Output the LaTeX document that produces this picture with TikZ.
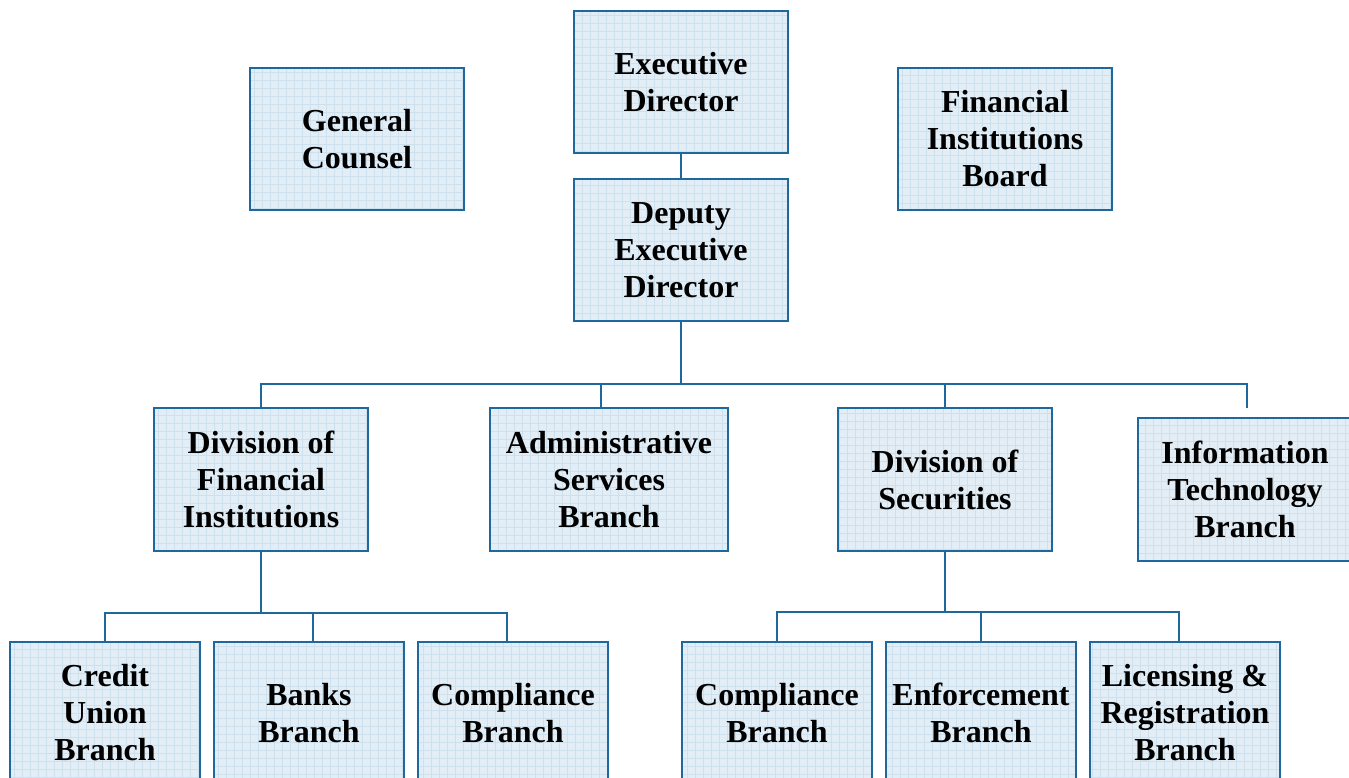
\documentclass[tikz,border=0pt]{standalone}
\usepackage{fontspec}
\setmainfont{Liberation Serif}
\usepackage{xcolor}
\definecolor{boxline}{RGB}{31,104,158}
\definecolor{boxfill}{RGB}{226,237,245}
\definecolor{boxgrid}{RGB}{204,224,238}
\usetikzlibrary{calc}
\tikzset{
  orgbox/.style={rectangle,draw=boxline,line width=2.2pt,fill=boxfill,align=center,
    font=\fontsize{32}{37}\selectfont\bfseries,minimum width=214pt,minimum height=142pt,
    inner sep=0pt,
    path picture={\draw[boxgrid,line width=0.6pt,step=8pt] (path picture bounding box.south west) grid (path picture bounding box.north east);}},
  lowbox/.style={orgbox,minimum width=190pt,minimum height=142pt},
  link/.style={draw=boxline,line width=2pt}
}

\begin{document}
\begin{tikzpicture}[x=1pt,y=-1pt]
 \useasboundingbox (0,0) rectangle (1349,777);
 \node[orgbox] (gc) at (357,139) {General\\Counsel};
 \node[orgbox] (ed) at (681,82) {Executive\\Director};
 \node[orgbox] (fib) at (1005,139) {Financial\\Institutions\\Board};
 \node[orgbox] (ded) at (681,250) {Deputy\\Executive\\Director};
 \node[orgbox,minimum height=143pt] (dfi) at (261,479.5) {Division of\\Financial\\Institutions};
 \node[orgbox,minimum width=238pt,minimum height=143pt] (asb) at (609,479.5) {Administrative\\Services\\Branch};
 \node[orgbox,minimum height=143pt] (dos) at (945,479.5) {Division of\\Securities};
 \node[orgbox,minimum height=143pt] (itb) at (1245,489.5) {Information\\Technology\\Branch};
 \node[lowbox] (cub) at (105,713) {Credit\\Union\\Branch};
 \node[lowbox] (bb) at (309,713) {Banks\\Branch};
 \node[lowbox] (cbf) at (513,713) {Compliance\\Branch};
 \node[lowbox] (cbs) at (777,713) {Compliance\\Branch};
 \node[lowbox] (eb) at (981,713) {Enforcement\\Branch};
 \node[lowbox] (lrb) at (1185,713) {Licensing \&\\Registration\\Branch};
 % bus lines
 \coordinate (top bus) at (681,383.5);
 \coordinate (asb drop) at (601,383.5);
 \coordinate (itb drop) at (1247,383.5);
 \coordinate (itb end) at (1247,408);
 \coordinate (dfi bus) at (261,613);
 \coordinate (bb drop) at (313,613);
 \coordinate (cbf drop) at (507,613);
 \coordinate (dos bus) at (945,612);
 \coordinate (lrb drop) at (1179,612);
 \draw[link] (ed) -- (ded);
 \draw[link] (ded) -- (top bus);
 \draw[link] (dfi.north) |- (top bus) -| (itb drop) -- (itb end);
 \draw[link] (asb drop) -- (asb drop |- asb.north);
 \draw[link] (dos.north) -- (dos.north |- top bus);
 \draw[link] (dfi) -- (dfi bus);
 \draw[link] (cub.north) |- (dfi bus) -| (cbf drop) -- (cbf drop |- cbf.north);
 \draw[link] (bb drop) -- (bb drop |- bb.north);
 \draw[link] (dos) -- (dos bus);
 \draw[link] (cbs.north) |- (dos bus) -| (lrb drop) -- (lrb drop |- lrb.north);
 \draw[link] (eb.north) -- (eb.north |- dos bus);
\end{tikzpicture}
\end{document}
